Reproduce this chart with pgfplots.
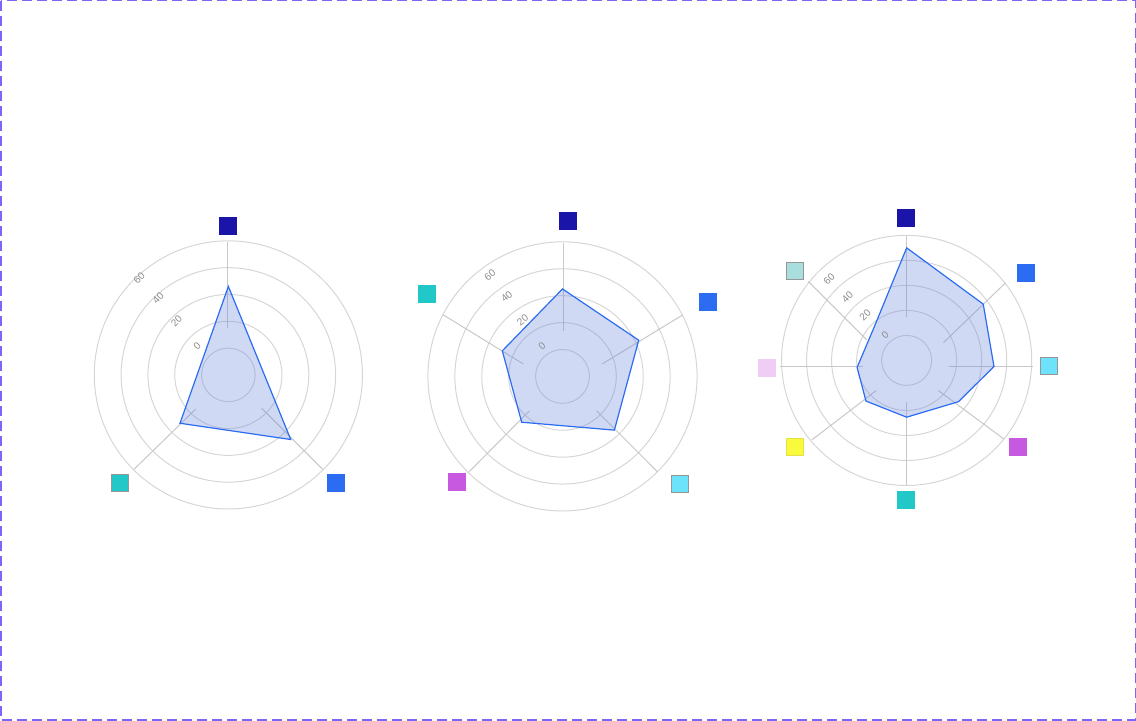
\documentclass[border=0pt]{standalone}
\usepackage{fontspec}
\setmainfont{Liberation Sans}
\usepackage{pgfplots}
\usepackage{pgfplotstable}
\pgfplotsset{compat=1.18}
\definecolor{gridc}{RGB}{214,214,214}
\definecolor{spokec}{RGB}{200,200,200}
\definecolor{bordc}{RGB}{128,100,250}
\definecolor{polyline}{RGB}{43,108,242}
\definecolor{polyfill}{RGB}{100,130,220}
\definecolor{lblc}{RGB}{140,140,140}
\definecolor{cDark}{RGB}{26,21,168}
\definecolor{cBlue}{RGB}{43,108,242}
\definecolor{cTeal}{RGB}{34,200,200}
\definecolor{cCyan}{RGB}{109,227,251}
\definecolor{cPurple}{RGB}{199,88,224}
\definecolor{cYellow}{RGB}{250,250,60}
\definecolor{cLav}{RGB}{239,205,245}
\definecolor{cLTeal}{RGB}{169,222,222}
\definecolor{mbord}{RGB}{150,150,150}

\pgfdeclareplotmark{rsq}{%
  \pgfsetcornersarced{\pgfpoint{1.2pt}{1.2pt}}%
  \pgfpathmoveto{\pgfqpoint{-\pgfplotmarksize}{0pt}}%
  \pgfpathlineto{\pgfqpoint{-\pgfplotmarksize}{\pgfplotmarksize}}%
  \pgfpathlineto{\pgfqpoint{\pgfplotmarksize}{\pgfplotmarksize}}%
  \pgfpathlineto{\pgfqpoint{\pgfplotmarksize}{-\pgfplotmarksize}}%
  \pgfpathlineto{\pgfqpoint{-\pgfplotmarksize}{-\pgfplotmarksize}}%
  \pgfpathclose
  \pgfusepathqfillstroke}

% angle (deg), value
\pgfplotstableread{
a v
90 26
-46 27
225 11
}\chartA
\pgfplotstableread{
a v
90 25
25.4 22.7
-46 15.5
228.3 5.6
157 8.6
}\chartB
\pgfplotstableread{
a v
90 50
36.3 36
-4 30
-38.5 13
-90 5.4
-135 6
188 0
135 -3
}\chartC

\newcommand{\mk}[4]{\addplot[only marks, mark=rsq, mark size=4.25pt, mark options={fill=#3, draw=#4, line width=0.5pt}] coordinates {(#1,#2)};}

\begin{document}
\begin{tikzpicture}
\begin{axis}[scale only axis, width=568pt, height=360.5pt,
  xmin=0, xmax=1136, ymin=0, ymax=721, y dir=reverse,
  hide axis, clip=false]
% border
\draw[bordc, line width=0.75pt, dash pattern=on 5pt off 2.5pt] (axis cs:1,1) rectangle (axis cs:1135,720);

% ---------- chart 1 ----------
\pgfplotsinvokeforeach{13.4,26.8,40.2,53.6,67}{\draw[gridc, line width=0.5pt] (axis cs:228.5,375) circle[radius=#1pt];}
\draw[spokec, line width=0.5pt] (axis cs:227.7,242.3) -- (axis cs:227.7,328.3);
\draw[spokec, line width=0.5pt] (axis cs:322.7,469.3) -- (axis cs:261.7,408.3);
\draw[spokec, line width=0.5pt] (axis cs:134.3,469.3) -- (axis cs:196,409);
\addplot[draw=polyline, line width=0.6pt, fill=polyfill, fill opacity=0.3]
  table[x expr={228.5+(\thisrow{v}+40)*1.34*cos(\thisrow{a})}, y expr={375-(\thisrow{v}+40)*1.34*sin(\thisrow{a})}] {\chartA} -- cycle;
\node[rotate=45, lblc, font=\fontsize{5}{6}\selectfont] at (axis cs:197.3,346) {0};
\node[rotate=45, lblc, font=\fontsize{5}{6}\selectfont] at (axis cs:176.7,321) {20};
\node[rotate=45, lblc, font=\fontsize{5}{6}\selectfont] at (axis cs:158.3,298.3) {40};
\node[rotate=45, lblc, font=\fontsize{5}{6}\selectfont] at (axis cs:139.3,278.3) {60};
\mk{228.3}{226}{cDark}{cDark}
\mk{336}{482.7}{cBlue}{cBlue}
\mk{120}{482.7}{cTeal}{mbord}

% ---------- chart 2 ----------
\pgfplotsinvokeforeach{13.45,26.9,40.35,53.8,67.25}{\draw[gridc, line width=0.5pt] (axis cs:562.5,376.5) circle[radius=#1pt];}
\draw[spokec, line width=0.5pt] (axis cs:563.3,243.3) -- (axis cs:563.3,331);
\draw[spokec, line width=0.5pt] (axis cs:682.7,315) -- (axis cs:602.3,364);
\draw[spokec, line width=0.5pt] (axis cs:657.3,471.7) -- (axis cs:596.7,411);
\draw[spokec, line width=0.5pt] (axis cs:469.3,471.7) -- (axis cs:529.3,411);
\draw[spokec, line width=0.5pt] (axis cs:443.3,315) -- (axis cs:523.3,364);
\addplot[draw=polyline, line width=0.6pt, fill=polyfill, fill opacity=0.3]
  table[x expr={562.5+(\thisrow{v}+40)*1.345*cos(\thisrow{a})}, y expr={376.5-(\thisrow{v}+40)*1.345*sin(\thisrow{a})}] {\chartB} -- cycle;
\node[rotate=40, lblc, font=\fontsize{5}{6}\selectfont] at (axis cs:542,345.7) {0};
\node[rotate=40, lblc, font=\fontsize{5}{6}\selectfont] at (axis cs:522.7,320) {20};
\node[rotate=40, lblc, font=\fontsize{5}{6}\selectfont] at (axis cs:506.7,296.7) {40};
\node[rotate=40, lblc, font=\fontsize{5}{6}\selectfont] at (axis cs:490,275) {60};
\mk{567.7}{220.7}{cDark}{cDark}
\mk{708.3}{301.7}{cBlue}{cBlue}
\mk{680.3}{484.3}{cCyan}{mbord}
\mk{456.7}{482}{cPurple}{cPurple}
\mk{427.3}{294}{cTeal}{cTeal}

% ---------- chart 3 ----------
\pgfplotsinvokeforeach{12.5,25,37.5,50,62.5}{\draw[gridc, line width=0.5pt] (axis cs:906.5,360.5) circle[radius=#1pt];}
\draw[spokec, line width=0.5pt] (axis cs:906.7,236) -- (axis cs:906.7,316.7);
\draw[spokec, line width=0.5pt] (axis cs:1005,283.3) -- (axis cs:943.3,342.7);
\draw[spokec, line width=0.5pt] (axis cs:1032.7,366.7) -- (axis cs:949,366.7);
\draw[spokec, line width=0.5pt] (axis cs:1004,439.3) -- (axis cs:938.3,390.7);
\draw[spokec, line width=0.5pt] (axis cs:906.7,485) -- (axis cs:906.7,402.3);
\draw[spokec, line width=0.5pt] (axis cs:811.7,440) -- (axis cs:876,390.7);
\draw[spokec, line width=0.5pt] (axis cs:780,366.7) -- (axis cs:863.3,366.7);
\draw[spokec, line width=0.5pt] (axis cs:808.3,281.7) -- (axis cs:866.7,340);
\addplot[draw=polyline, line width=0.6pt, fill=polyfill, fill opacity=0.3]
  table[x expr={906.5+(\thisrow{v}+40)*1.25*cos(\thisrow{a})}, y expr={360.5-(\thisrow{v}+40)*1.25*sin(\thisrow{a})}] {\chartC} -- cycle;
\node[rotate=45, lblc, font=\fontsize{5}{6}\selectfont] at (axis cs:885,335) {0};
\node[rotate=45, lblc, font=\fontsize{5}{6}\selectfont] at (axis cs:865,315) {20};
\node[rotate=45, lblc, font=\fontsize{5}{6}\selectfont] at (axis cs:847.3,297.3) {40};
\node[rotate=45, lblc, font=\fontsize{5}{6}\selectfont] at (axis cs:829,279.3) {60};
\mk{906}{218.3}{cDark}{cDark}
\mk{1026}{273.3}{cBlue}{cBlue}
\mk{1048.3}{365.7}{cCyan}{mbord}
\mk{1017.7}{447.3}{cPurple}{cPurple}
\mk{906}{500}{cTeal}{cTeal}
\mk{795}{447.3}{cYellow}{cYellow!80!gray}
\mk{766.7}{368.3}{cLav}{cLav}
\mk{795}{271.3}{cLTeal}{mbord}
\end{axis}
\end{tikzpicture}
\end{document}
